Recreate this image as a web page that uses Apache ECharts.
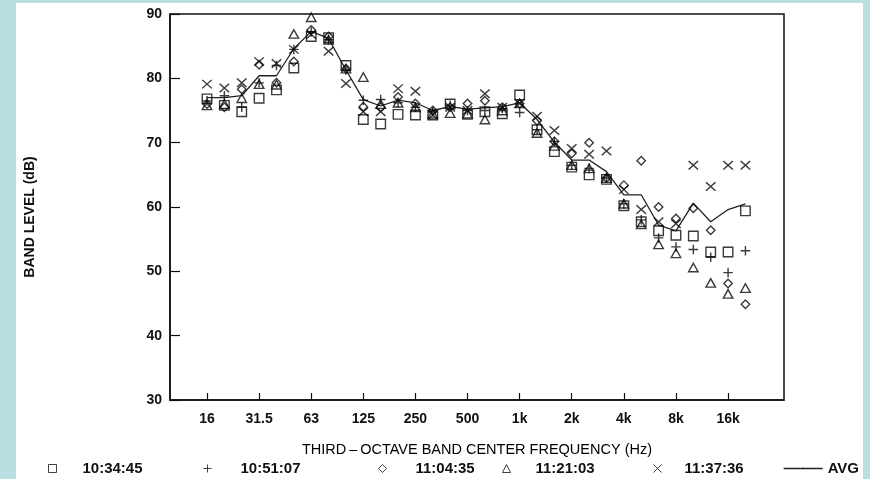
<!DOCTYPE html>
<html><head><meta charset="utf-8">
<script src="https://cdn.jsdelivr.net/npm/echarts@6/dist/echarts.min.js"></script>
<style>
html,body{margin:0;padding:0;background:#b9dfe3;}
#wrap{position:relative;width:870px;height:479px;background:#b9dfe3;overflow:hidden}
#paper{position:absolute;left:16px;top:3px;width:847px;height:476px;background:#fff}
#chart{position:absolute;left:0;top:0;width:870px;height:479px}
</style></head><body>
<div id="wrap"><div id="paper"></div><div id="chart"></div></div>
<script>
const categories = ['16','20','25','31.5','40','50','63','80','100','125','160','200','250','315','400','500','630','800','1k','1.25k','1.6k','2k','2.5k','3.15k','4k','5k','6.3k','8k','10k','12.5k','16k','20k'];
const tickLabels = ['16','31.5','63','125','250','500','1k','2k','4k','8k','16k'];
const yTicks = [30, 40, 50, 60, 70, 80, 90];
const seriesNames = ['10:34:45', '10:51:07', '11:04:35', '11:21:03', '11:37:36', 'AVG'];
const run1 = [76.8, 75.8, 74.8, 76.9, 78.2, 81.6, 86.5, 86.3, 82.0, 73.6, 72.9, 74.4, 74.3, 74.3, 76.0, 74.4, 74.8, 74.5, 77.4, 72.0, 68.6, 66.2, 65.0, 64.3, 60.2, 57.7, 56.3, 55.6, 55.5, 53.0, 53.0, 59.4];
const run2 = [76.5, 77.3, 75.5, 79.3, 82.0, 84.5, 87.2, 86.0, 81.3, 76.6, 76.7, 76.2, 75.5, 74.8, 75.8, 75.0, 75.0, 75.3, 74.7, 72.0, 70.2, 66.5, 66.0, 64.5, 60.5, 58.0, 55.2, 53.8, 53.4, 52.2, 49.8, 53.2];
const run3 = [76.0, 75.5, 78.3, 82.1, 79.3, 82.6, 87.5, 86.5, 81.5, 75.6, 75.5, 77.1, 76.1, 75.0, 75.5, 76.1, 76.5, 75.5, 76.1, 73.4, 70.2, 68.3, 70.0, 64.5, 63.4, 67.2, 60.0, 58.2, 59.8, 56.4, 48.1, 44.9];
const run4 = [75.8, 76.0, 76.9, 79.1, 79.0, 86.9, 89.5, 86.0, 81.5, 80.2, 76.0, 76.2, 75.5, 74.5, 74.6, 74.5, 73.6, 75.0, 76.1, 71.5, 69.5, 66.5, 66.0, 64.5, 60.5, 57.3, 54.2, 52.8, 50.6, 48.2, 46.5, 47.4];
const run5 = [79.1, 78.5, 79.3, 82.6, 82.3, 84.5, 86.8, 84.2, 79.2, 74.8, 74.8, 78.4, 78.0, 74.3, 75.5, 75.0, 77.6, 75.5, 76.1, 74.1, 71.9, 69.1, 68.2, 68.7, 62.7, 59.6, 57.7, 57.4, 66.5, 63.2, 66.5, 66.5];
const avg  = [77.0, 77.0, 77.3, 80.4, 80.4, 84.6, 87.3, 86.2, 81.3, 76.7, 75.7, 76.6, 76.2, 75.0, 75.6, 75.2, 75.4, 75.6, 76.2, 73.6, 70.1, 67.3, 67.3, 65.5, 61.9, 61.9, 57.2, 56.3, 60.6, 57.7, 59.6, 60.5];

const FONT = 'Liberation Sans, Arial, Helvetica, sans-serif';
const symPlus = 'path://M5,0L5,10M0,5L10,5';
const symCross = 'path://M0,0L10,10M10,0L0,10';
const markers = [
  {symbol: 'rect', size: 9.5},
  {symbol: symPlus, size: 9.5},
  {symbol: 'diamond', size: [8.5, 8.5]},
  {symbol: 'triangle', size: [9.5, 8.5]},
  {symbol: symCross, size: [9.5, 8.5]}
];
const runs = [run1, run2, run3, run4, run5];
const tickIdx = tickLabels.map(t => categories.indexOf(t));
const toPts = arr => arr.map((v, i) => [i, v]);

const series = runs.map((r, k) => ({
  name: seriesNames[k],
  type: 'scatter',
  data: toPts(r),
  symbol: markers[k].symbol,
  symbolSize: markers[k].size,
  itemStyle: {color: 'rgba(0,0,0,0)', borderColor: '#0a0a0a', borderWidth: 1.4},
  emphasis: {disabled: true},
  z: 3
}));
series.push({
  name: seriesNames[5],
  type: 'line',
  data: toPts(avg),
  symbol: 'none',
  showSymbol: false,
  lineStyle: {color: '#222', width: 1.3},
  itemStyle: {color: '#222'},
  z: 2
});

const legendLeft = [48, 203, 378, 502, 653, 783];
const legendPad = [21, 24, 24, 20, 18, 0];
const legends = seriesNames.map((n, k) => ({
  data: [n],
  left: legendLeft[k],
  top: 461,
  padding: 0,
  orient: 'horizontal',
  itemWidth: k === 5 ? 39 : 8,
  itemHeight: k === 5 ? 2 : 8,
  itemGap: 0,
  selectedMode: false,
  itemStyle: k === 5 ? undefined : {color: 'rgba(0,0,0,0)', borderColor: '#111', borderWidth: 1},
  lineStyle: k === 5 ? {color: '#222', width: 1.3} : undefined,
  textStyle: {fontFamily: FONT, fontSize: 15, fontWeight: 'bold', color: '#111', padding: [0, 0, 0, legendPad[k]]}
}));

const chart = echarts.init(document.getElementById('chart'), null, {renderer: 'canvas'});
chart.setOption({
  animation: false,
  backgroundColor: 'transparent',
  grid: {left: 170, top: 14, right: 86, bottom: 79, show: true, borderColor: '#111', borderWidth: 1.5, backgroundColor: 'transparent'},
  legend: legends,
  xAxis: {
    type: 'value',
    min: -2.13, max: 33.22,
    name: 'THIRD\u2009\u2013\u2009OCTAVE BAND CENTER FREQUENCY (Hz)',
    nameLocation: 'middle',
    nameGap: 42,
    nameTextStyle: {fontFamily: FONT, fontSize: 14.5, color: '#000'},
    axisLine: {show: true, onZero: false, lineStyle: {color: '#111', width: 1.5}},
    axisTick: {show: true, inside: true, length: 7, lineStyle: {color: '#111', width: 1.2}, customValues: tickIdx},
    axisLabel: {customValues: tickIdx, formatter: v => categories[Math.round(v)], fontFamily: FONT, fontSize: 14, fontWeight: 'bold', color: '#111', margin: 12},
    splitLine: {show: false}
  },
  yAxis: {
    type: 'value',
    min: yTicks[0], max: yTicks[yTicks.length - 1], interval: 10,
    name: 'BAND LEVEL (dB)',
    nameLocation: 'middle',
    nameRotate: 90,
    nameGap: 133,
    nameTextStyle: {fontFamily: FONT, fontSize: 14, fontWeight: 'bold', color: '#111', padding: [0, 20, 0, 0]},
    axisLine: {show: true, onZero: false, lineStyle: {color: '#111', width: 1.5}},
    axisTick: {show: true, inside: true, length: 10, lineStyle: {color: '#111', width: 1.2}},
    axisLabel: {fontFamily: FONT, fontSize: 14, fontWeight: 'bold', color: '#111', margin: 8},
    splitLine: {show: false}
  },
  series: series
});
</script></body></html>
